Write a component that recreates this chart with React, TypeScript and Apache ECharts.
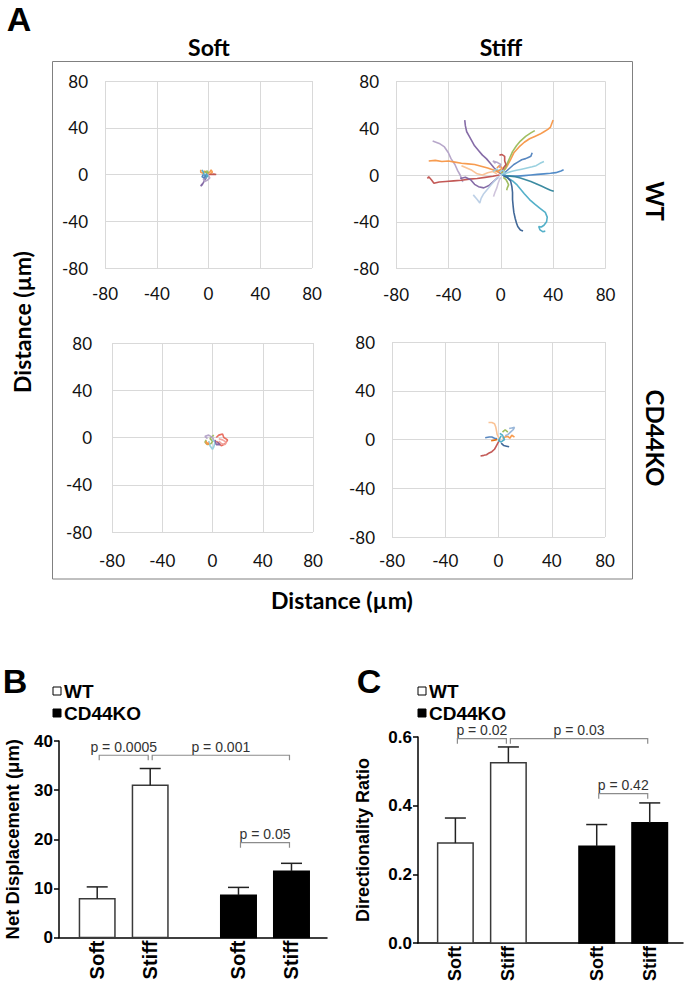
import React, { useEffect, useRef } from "react";
import * as echarts from "echarts";

// ---------------- Panel A : cell trajectories (µm) ----------------
const axisTicksA = [-80, -40, 0, 40, 80];
const columnTitles = ["Soft", "Stiff"];
const rowTitles = ["WT", "CD44KO"];

const wtSoftTracks = [
  [[-6, 4], [-6, 2], [-4, 1], [-3, 3], [-1, 1], [1, 2], [2, 4], [3, 2], [1, 0]],
  [[0, 0], [2, 0], [4, 0.3], [6, 0]],
  [[-1, -1], [-2, -3], [-3, -5], [-4, -7], [-5, -9], [-6, -10], [-5, -8]],
  [[-5, 4], [-4, 2], [-3, -1], [-2, -3], [-1, -1], [0, -2], [-2, 1]],
  [[-2, -2], [-4, -4], [-3, -6], [-1, -5], [1, -3], [0, -1]],
  [[-4, 0], [-5, -2], [-3, -3], [-2, 0]],
  [[-3, 2], [-1, 3], [0, 1]],
];
const wtSoftColors = ["#F79646", "#C0504D", "#8064A2", "#4BACC6", "#B3A2C7", "#4F81BD", "#9BBB59"];

const wtStiffTracks = [
  [[1, 2], [4, 6], [7, 12], [10, 19], [14, 24], [18, 28], [22, 31], [26, 33], [30, 35], [33, 37], [36, 39], [38, 41], [39, 44], [40, 47]],
  [[0, 1], [3, 5], [5, 10], [7, 15], [9, 20], [12, 25], [15, 29], [19, 33], [23, 36], [26, 38]],
  [[-27.5, 47], [-27, 42], [-26, 37], [-24, 33], [-22, 29], [-20, 25], [-17, 21], [-14, 17], [-11, 14], [-8, 10], [-5, 6], [-2, 3], [0, 1]],
  [[-52, 29], [-47, 27], [-43, 24], [-40, 19], [-38, 14], [-35, 9], [-33, 4], [-31, 0], [-30, -3], [-29, -6]],
  [[-55, 12], [-50, 12.5], [-45, 11.5], [-40, 12], [-35, 11], [-30, 10], [-25, 9.5], [-20, 9], [-15, 7.5], [-10, 6], [-5, 4], [-1, 2]],
  [[-30, 8], [-26, 6], [-22, 4], [-18, 1], [-14, 0], [-10, 2], [-6, 3], [-3, 1]],
  [[-56, -3], [-55, -1.5], [-53, -4], [-51, -7], [-47, -6], [-42, -5.5], [-36, -5], [-30, -4.5], [-24, -3.5], [-18, -3], [-12, -2], [-6, -1], [-1, 0]],
  [[-31, -3], [-27, -2], [-23, -4], [-20, -8], [-17, -10], [-13, -11], [-9, -9], [-5, -5], [-2, -2]],
  [[-21, -17], [-18, -21], [-16, -24], [-15, -20], [-13, -16], [-10, -12], [-7, -8], [-4, -4], [-1, -1]],
  [[-1, 17], [1, 17.5], [3, 16], [3, 12], [4, 9], [2, 6], [1, 3]],
  [[24, 19], [23, 16], [21, 15], [19, 14], [16, 13], [13, 11], [10, 9], [7, 6], [4, 3], [1, 0]],
  [[33, 11.5], [30, 10], [27, 8], [24, 7], [20, 6], [16, 5], [12, 4], [8, 3], [4, 1.5], [1, 0]],
  [[48, 4.5], [46, 3.5], [42, 2], [38, 1.5], [33, 1], [28, 0.5], [23, 0], [18, -0.5], [13, -1], [8, -1], [4, -0.5], [1, 0]],
  [[40.5, -14], [38, -13], [35, -11.5], [31, -9.5], [27, -7.5], [23, -5.5], [19, -4], [15, -2.5], [11, -1.5], [7, -1], [3, -0.5]],
  [[34, -48], [32, -48.5], [30, -47], [29, -44], [31, -44.5], [33, -43], [35, -40], [35.5, -36], [34, -32], [30, -28.5], [26, -25], [22, -21], [18, -16], [15, -12], [12, -8], [9, -5], [6, -3], [3, -1]],
  [[17, -48], [15, -47], [13, -44], [12, -41], [11, -37], [10, -32], [9.5, -27], [9, -21], [9, -15], [8.5, -10], [7.5, -5], [5, -2], [2, -1]],
  [[4.5, -13], [5, -11], [6, -8.5], [5, -6], [4, -4], [2, -2]],
  [[-5.5, -18.5], [-4.5, -15], [-3, -11], [-2, -7], [-1, -4], [0, -2]],
  [[-6, 3], [-3, 5], [-1, 3], [2, 4], [3, 2], [0, 0]],
  [[-3, 6], [-1, 8], [1, 6], [-1, 4], [-3, 3]],
  [[-4, 10], [-6, 12], [-3, 11], [0, 9], [-1, 6]],
];
const wtStiffColors = [
  "#F79646", "#9BBB59", "#8064A2", "#B3A2C7", "#F79646", "#FAC090", "#C0504D",
  "#8064A2", "#B9CDE5", "#C0504D", "#4F81BD", "#93CDDD", "#4A86C5", "#31859C",
  "#4BACC6", "#376092", "#9BBB59", "#CCC1DA", "#93CDDD", "#F79646", "#B3A2C7",
];

const koSoftTracks = [
  [[3, 0], [5, 2], [8, 3], [9, 0], [12, -2], [11, -4], [9, -6], [7, -7], [5, -5], [3, -3]],
  [[5, -1], [8, -2], [11, -4], [10, -6], [7, -5], [5, -3]],
  [[-5, -2], [-6, -4], [-4, -6], [-1, -5], [0, -3], [-2, -1], [0, 1], [1, 2]],
  [[-3, -3], [-2, -7], [0, -10], [1, -8], [2, -4], [0, -2]],
  [[-4, -1], [-6, 1], [-3, 2], [0, 0], [1, -2]],
  [[-5, -3], [-5, -5], [-3, -6], [-4, -4]],
  [[4, -4], [6, -6], [3, -6], [2, -2]],
];
const koSoftColors = ["#E8685A", "#F2A19A", "#9BBB59", "#93CDDD", "#B3A2C7", "#F79646", "#8064A2"];

const koStiffTracks = [
  [[-7.5, 14], [-5, 14], [-3, 13], [-2, 10], [-1.5, 7], [-1, 4], [0, 2], [1, 0]],
  [[-13.5, -13.5], [-11, -13], [-9, -12.5], [-7, -11], [-5, -10], [-3, -8], [-2, -6], [-1, -4], [0, -2], [1, 0]],
  [[-10, 1.5], [-7, 2], [-5, 2], [-3, 1], [-1, 0.5]],
  [[8, 9], [10, 9.5], [12, 10], [11, 8], [9, 6], [7, 4], [5, 3]],
  [[8, -6], [6, -5.5], [4, -5], [2, -3]],
  [[12, 2], [10, 3.5], [8.5, 1], [7, 2.5], [5, 2], [3, 1]],
  [[1, 5], [3, 3.5], [4.5, 0], [2, -2], [0, -1], [2, 3]],
  [[-5.5, -1], [-3, -0.5], [-1, 0]],
  [[3, 6], [5, 8], [7, 6]],
];
const koStiffColors = ["#FAC090", "#C0504D", "#4F81BD", "#95B3D7", "#376092", "#F79646", "#4BACC6", "#E46C0A", "#9BBB59"];

// ---------------- Panels B and C : bar charts ----------------
const conditions = ["Soft", "Stiff"];
const genotypes = ["WT", "CD44KO"];
const barGenotype = [0, 0, 1, 1];
const barCondition = [0, 1, 0, 1];
const displacementMean = [7.9, 31.0, 8.6, 13.5];
const displacementSem = [2.4, 3.4, 1.6, 1.6];
const directionalityMean = [0.291, 0.525, 0.282, 0.35];
const directionalitySem = [0.073, 0.046, 0.063, 0.058];
const displacementTicks = [0, 10, 20, 30, 40];
const directionalityTicks = [0, 0.2, 0.4, 0.6];
// [from bar, to bar, bracket level]
const displacementBrackets = [[0, 1, 37.1], [1, 3, 37.1], [2, 3, 19.3]];
const displacementPLabels = ["p = 0.0005", "p = 0.001", "p = 0.05"];
const directionalityBrackets = [[0, 1, 0.595], [1, 3, 0.595], [2, 3, 0.435]];
const directionalityPLabels = ["p = 0.02", "p = 0.03", "p = 0.42"];

// ---------------- layout / style constants ----------------
const W = 685;
const H = 982;
const LATO = "Lato";
const ARIAL = '"Liberation Sans"';
const BAR_W = 35.5;
const BAR_OFF = 26.5;
const CAP = 10.5;

const scatterGrids = [
  { left: 105, top: 81, width: 207, height: 187, xm: 17, ym: 17 },
  { left: 396, top: 81.5, width: 209.5, height: 187, xm: 17, ym: 17 },
  { left: 112, top: 343, width: 201, height: 189, xm: 20, ym: 20 },
  { left: 392, top: 342, width: 213, height: 195, xm: 15, ym: 17 },
];

function barRenderer(labelSize: number) {
  return (params: any, api: any) => {
    const g = api.value(0);
    const c = api.value(1);
    const m = api.value(2);
    const s = api.value(3);
    const base = api.coord([g, 0]);
    const top = api.coord([g, m]);
    const et = api.coord([g, m + s]);
    const cx = base[0] + (c === 0 ? -BAR_OFF : BAR_OFF);
    const fill = g === 0 ? "#ffffff" : "#000000";
    return {
      type: "group",
      children: [
        {
          type: "rect",
          shape: { x: cx - BAR_W / 2, y: top[1], width: BAR_W, height: base[1] - top[1] },
          style: { fill, stroke: g === 0 ? "#3a3a3a" : "#000", lineWidth: 1.5 },
        },
        { type: "line", shape: { x1: cx, y1: top[1], x2: cx, y2: et[1] }, style: { stroke: "#222", lineWidth: 1.5 } },
        { type: "line", shape: { x1: cx - CAP, y1: et[1], x2: cx + CAP, y2: et[1] }, style: { stroke: "#222", lineWidth: 1.5 } },
        {
          type: "text",
          x: cx,
          y: base[1] + 3,
          rotation: Math.PI / 2,
          style: {
            text: conditions[c],
            x: 0,
            y: 0,
            font: `bold ${labelSize}px ${ARIAL}`,
            fill: "#000",
            align: "right",
            verticalAlign: "middle",
            textAlign: "right",
            textVerticalAlign: "middle",
          },
        },
      ],
    };
  };
}

function bracketRenderer(labels: string[]) {
  return (params: any, api: any) => {
    const g1 = api.value(0);
    const c1 = api.value(1);
    const g2 = api.value(2);
    const c2 = api.value(3);
    const lv = api.value(4);
    const p1 = api.coord([g1, lv]);
    const p2 = api.coord([g2, lv]);
    const x1 = p1[0] + (c1 === 0 ? -BAR_OFF : BAR_OFF) + 2;
    const x2 = p2[0] + (c2 === 0 ? -BAR_OFF : BAR_OFF) - 2;
    const y = p1[1];
    return {
      type: "group",
      children: [
        {
          type: "polyline",
          shape: { points: [[x1, y + 5], [x1, y], [x2, y], [x2, y + 5]] },
          style: { stroke: "#8c8c8c", lineWidth: 1.2, fill: "none" },
        },
        {
          type: "text",
          style: {
            text: labels[params.dataIndex],
            x: (x1 + x2) / 2,
            y: y - 1.5,
            font: `14px ${ARIAL}`,
            fill: "#333",
            align: "center",
            verticalAlign: "bottom",
            textAlign: "center",
            textVerticalAlign: "bottom",
          },
        },
      ],
    };
  };
}

function textEl(text: string, x: number, y: number, font: string, rotation = 0, align = "center", fill = "#000") {
  return {
    type: "text",
    x,
    y,
    rotation,
    style: {
      text,
      x: 0,
      y: 0,
      font,
      fill,
      align,
      verticalAlign: "middle",
      textAlign: align,
      textVerticalAlign: "middle",
    },
  };
}

function buildOption() {
  const grids: any[] = scatterGrids.map((g) => ({
    left: g.left,
    top: g.top,
    width: g.width,
    height: g.height,
    containLabel: false,
    outerBoundsMode: "none",
  }));
  grids.push({ left: 59, top: 741, width: 268, height: 196.5, containLabel: false, outerBoundsMode: "none" });
  grids.push({ left: 418, top: 737, width: 265, height: 206, containLabel: false, outerBoundsMode: "none" });

  const xAxes: any[] = scatterGrids.map((g, i) => ({
    type: "value",
    gridIndex: i,
    min: axisTicksA[0],
    max: axisTicksA[axisTicksA.length - 1],
    interval: axisTicksA[1] - axisTicksA[0],
    axisLine: { show: false },
    axisTick: { show: false },
    axisLabel: { fontFamily: LATO, fontSize: 17, color: "#111", margin: g.xm },
    splitLine: { show: true, showMinLine: true, showMaxLine: true, lineStyle: { color: "#d9d9d9", width: 1 } },
  }));
  const yAxes: any[] = scatterGrids.map((g, i) => ({
    type: "value",
    gridIndex: i,
    min: axisTicksA[0],
    max: axisTicksA[axisTicksA.length - 1],
    interval: axisTicksA[1] - axisTicksA[0],
    axisLine: { show: false },
    axisTick: { show: false },
    axisLabel: { fontFamily: LATO, fontSize: 17, color: "#111", margin: g.ym },
    splitLine: { show: true, showMinLine: true, showMaxLine: true, lineStyle: { color: "#d9d9d9", width: 1 } },
  }));

  // bar panels: genotype groups on a value axis (0 = WT, 1 = CD44KO)
  xAxes.push({
    type: "value",
    gridIndex: 4,
    min: -0.458,
    max: 1.439,
    axisLine: { show: true, onZero: false, lineStyle: { color: "#000", width: 1.5 } },
    axisTick: { show: false },
    axisLabel: { show: false },
    splitLine: { show: false },
  });
  xAxes.push({
    type: "value",
    gridIndex: 5,
    min: -0.452,
    max: 1.423,
    axisLine: { show: true, onZero: false, lineStyle: { color: "#000", width: 1.5 } },
    axisTick: { show: false },
    axisLabel: { show: false },
    splitLine: { show: false },
  });
  yAxes.push({
    type: "value",
    gridIndex: 4,
    min: displacementTicks[0],
    max: displacementTicks[displacementTicks.length - 1],
    interval: displacementTicks[1] - displacementTicks[0],
    name: "Net Displacement (μm)",
    nameLocation: "middle",
    nameGap: 37,
    nameTextStyle: { fontFamily: ARIAL, fontWeight: "bold", fontSize: 18.5, color: "#000" },
    axisLine: { show: true, onZero: false, lineStyle: { color: "#000", width: 1.5 } },
    axisTick: { show: true, length: 5, lineStyle: { color: "#000", width: 1.5 } },
    axisLabel: { fontFamily: ARIAL, fontWeight: "bold", fontSize: 17, color: "#000", margin: 6 },
    splitLine: { show: false },
  });
  yAxes.push({
    type: "value",
    gridIndex: 5,
    min: directionalityTicks[0],
    max: directionalityTicks[directionalityTicks.length - 1],
    interval: directionalityTicks[1] - directionalityTicks[0],
    name: "Directionality Ratio",
    nameLocation: "middle",
    nameGap: 46,
    nameTextStyle: { fontFamily: ARIAL, fontWeight: "bold", fontSize: 18, color: "#000" },
    axisLine: { show: true, onZero: false, lineStyle: { color: "#000", width: 1.5 } },
    axisTick: { show: true, length: 5, lineStyle: { color: "#000", width: 1.5 } },
    axisLabel: {
      fontFamily: ARIAL,
      fontWeight: "bold",
      fontSize: 17,
      color: "#000",
      margin: 6,
      formatter: (v: number) => v.toFixed(1),
    },
    splitLine: { show: false },
  });

  const series: any[] = [];
  const panels = [
    { tracks: wtSoftTracks, colors: wtSoftColors },
    { tracks: wtStiffTracks, colors: wtStiffColors },
    { tracks: koSoftTracks, colors: koSoftColors },
    { tracks: koStiffTracks, colors: koStiffColors },
  ];
  panels.forEach((p, i) => {
    p.tracks.forEach((t, j) => {
      series.push({
        type: "line",
        xAxisIndex: i,
        yAxisIndex: i,
        data: t,
        symbol: "none",
        showSymbol: false,
        silent: true,
        smooth: false,
        z: 3,
        lineStyle: { width: 1.6, color: p.colors[j % p.colors.length], opacity: 0.95 },
        itemStyle: { color: p.colors[j % p.colors.length] },
      });
    });
  });

  const barData = (means: number[], sems: number[]) =>
    means.map((m, i) => [barGenotype[i], barCondition[i], m, sems[i]]);
  const bracketData = (br: number[][]) =>
    br.map((b) => [barGenotype[b[0]], barCondition[b[0]], barGenotype[b[1]], barCondition[b[1]], b[2]]);

  series.push({
    type: "custom",
    xAxisIndex: 4,
    yAxisIndex: 4,
    data: barData(displacementMean, displacementSem),
    encode: { x: 0, y: 2 },
    renderItem: barRenderer(20),
    clip: false,
    silent: true,
    z: 5,
  });
  series.push({
    type: "custom",
    xAxisIndex: 4,
    yAxisIndex: 4,
    data: bracketData(displacementBrackets),
    encode: { x: 0, y: 4 },
    renderItem: bracketRenderer(displacementPLabels),
    clip: false,
    silent: true,
    z: 5,
  });
  series.push({
    type: "custom",
    xAxisIndex: 5,
    yAxisIndex: 5,
    data: barData(directionalityMean, directionalitySem),
    encode: { x: 0, y: 2 },
    renderItem: barRenderer(18),
    clip: false,
    silent: true,
    z: 5,
  });
  series.push({
    type: "custom",
    xAxisIndex: 5,
    yAxisIndex: 5,
    data: bracketData(directionalityBrackets),
    encode: { x: 0, y: 4 },
    renderItem: bracketRenderer(directionalityPLabels),
    clip: false,
    silent: true,
    z: 5,
  });

  const legendEls = (x: number) => [
    { type: "rect", shape: { x, y: 687, width: 8, height: 8 }, style: { fill: "#fff", stroke: "#000", lineWidth: 1 } },
    textEl(genotypes[0], x + 11, 691, `bold 19px ${ARIAL}`, 0, "left"),
    { type: "rect", shape: { x, y: 709, width: 8, height: 8 }, style: { fill: "#000", stroke: "#000", lineWidth: 1 } },
    textEl(genotypes[1], x + 11, 713, `bold 19px ${ARIAL}`, 0, "left"),
  ];

  const graphic = [
    textEl("A", 19, 19, `bold 34px ${ARIAL}`),
    textEl(columnTitles[0], 209, 47, `bold 23px ${LATO}`),
    textEl(columnTitles[1], 501, 47, `bold 23px ${LATO}`),
    {
      type: "rect",
      shape: { x: 52.5, y: 61.5, width: 580, height: 517.5 },
      style: { fill: "none", stroke: "#808080", lineWidth: 1 },
    },
    textEl(rowTitles[0], 655, 201, `bold 24px ${LATO}`, -Math.PI / 2),
    textEl(rowTitles[1], 655, 438, `bold 24px ${LATO}`, -Math.PI / 2),
    textEl("Distance (µm)", 342, 600, `bold 23px ${LATO}`),
    textEl("Distance (µm)", 22, 322, `bold 23px ${LATO}`, Math.PI / 2),
    textEl("B", 15, 681, `bold 34px ${ARIAL}`),
    textEl("C", 369, 681, `bold 34px ${ARIAL}`),
    ...legendEls(53),
    ...legendEls(418),
  ];

  return {
    animation: false,
    backgroundColor: "#ffffff",
    grid: grids,
    xAxis: xAxes,
    yAxis: yAxes,
    series,
    graphic: { elements: graphic },
  };
}

export default function App() {
  const ref = useRef<HTMLDivElement>(null);
  useEffect(() => {
    document.body.style.margin = "0";
    const chart = echarts.init(ref.current as HTMLDivElement, null, { renderer: "svg", width: W, height: H });
    chart.setOption(buildOption() as any);
    return () => chart.dispose();
  }, []);
  return (
    <div
      ref={ref}
      style={{ position: "absolute", left: 0, top: 0, width: W, height: H, background: "#fff" }}
    />
  );
}
